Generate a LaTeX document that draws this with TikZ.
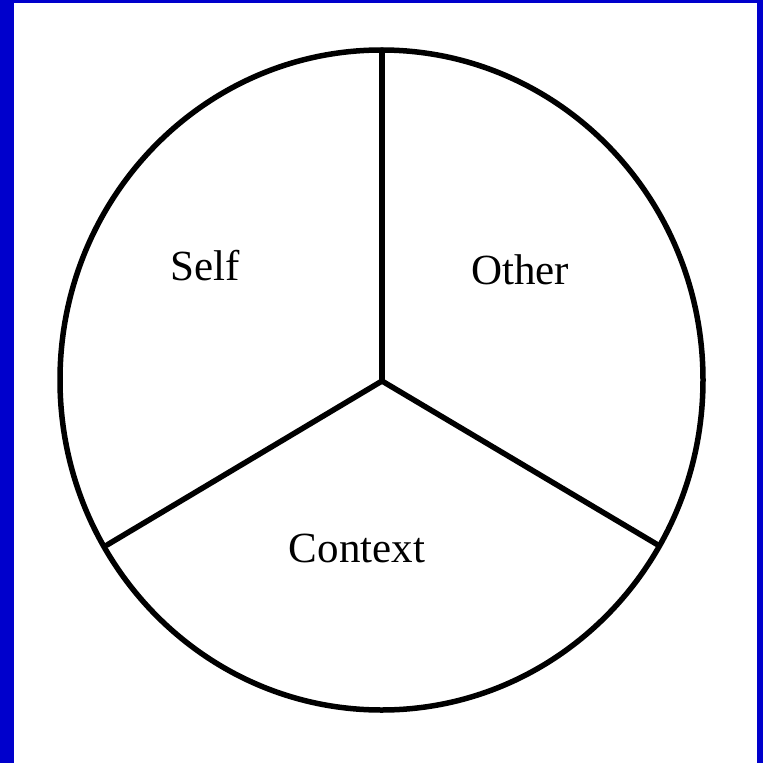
\documentclass[tikz,border=0pt]{standalone}
\usepackage{fontspec}
\setmainfont{Liberation Serif}
\begin{document}
\begin{tikzpicture}[x=1pt,y=-1pt,
  frame/.style={fill={rgb,255:red,0;green,0;blue,204}},
  edge/.style={line width=5.5pt,line cap=round,line join=round},
  lbl/.style={anchor=base,inner sep=0pt,font=\fontsize{43}{50}\selectfont}]
\useasboundingbox (0,0) rectangle (763,763);
\fill[white] (0,0) rectangle (763,763);
\fill[frame] (0,0) rectangle (14,763);
\fill[frame] (0,0) rectangle (763,3);
\fill[frame] (757,0) rectangle (763,763);
\draw[edge] (381.5,380) ellipse [x radius=321.5, y radius=330];
\coordinate (hub) at (382,381);
\coordinate (top) at (382,50);
\coordinate (ll) at (107,545);
\coordinate (lr) at (658,545);
\draw[edge] (hub) -- (top);
\draw[edge] (hub) -- (ll);
\draw[edge] (hub) -- (lr);
\node[lbl] (self) at (205,280) {Self};
\node[lbl] (other) at (520,284) {Other};
\node[lbl] (context) at (357,562) {Context};
\end{tikzpicture}
\end{document}
